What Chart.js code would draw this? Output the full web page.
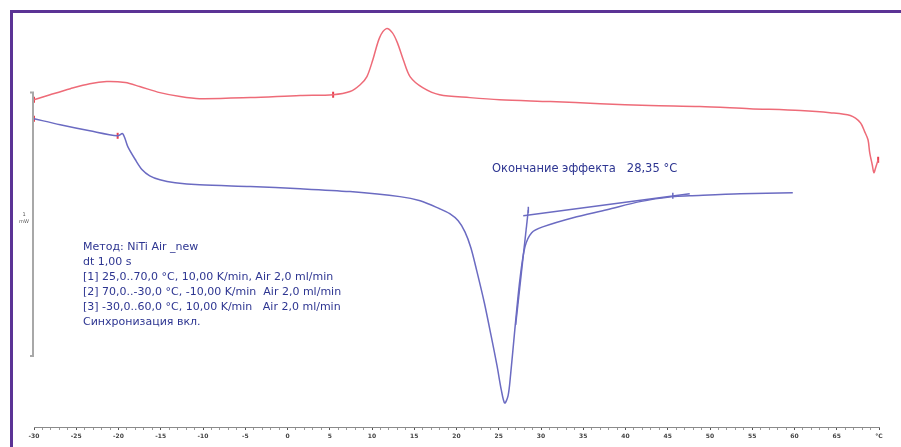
<!DOCTYPE html>
<html>
<head>
<meta charset="utf-8">
<script src="https://cdn.jsdelivr.net/npm/chart.js@4/dist/chart.umd.min.js"></script>
<style>
    html, body { margin: 0; padding: 0; background: #fff; }
    #wrap { position: relative; width: 901px; height: 447px; overflow: hidden; }
    #frame {
        position: absolute; left: 10px; top: 10px; right: -10px; bottom: -10px;
        border-top: 3px solid #5b3395; border-left: 3px solid #5b3395;
    }
    canvas { position: absolute; left: 0; top: 0; }
    .note {
        position: absolute; color: #2d3591; white-space: pre;
        font-family: "DejaVu Sans", sans-serif;
    }
    #method { left: 83px; top: 239px; font-size: 11px; line-height: 15px; }
    #effect { left: 492px; top: 161px; font-size: 11.5px; }
    #unit { left: 17px; top: 211px; font-size: 5px; line-height: 7px; color: #555; text-align: center; width: 14px; }
</style>
</head>
<body>
<div id="wrap">
    <canvas id="dsc" width="901" height="447"></canvas>
    <div id="frame"></div>
    <div class="note" id="unit">1
mW</div>
    <div class="note" id="method">Метод: NiTi Air _new
dt 1,00 s
[1] 25,0..70,0 °C, 10,00 K/min, Air 2,0 ml/min
[2] 70,0..-30,0 °C, -10,00 K/min  Air 2,0 ml/min
[3] -30,0..60,0 °C, 10,00 K/min   Air 2,0 ml/min
Синхронизация вкл.</div>
    <div class="note" id="effect">Окончание эффекта   28,35 °C</div>
</div>
<script>
// heating curve (red)
const heatT = [-30.0, -28.1, -25.7, -23.4, -21.4, -19.2, -17.5, -15.1, -12.7, -10.4, -4.4, 1.5, 5.4, 7.4, 8.6, 9.4, 10.1, 10.9, 11.7, 12.4, 13.0, 13.7, 14.5, 16.0, 18.0, 21.6, 25.1, 31.1, 37.0, 42.9, 48.8, 54.7, 60.7, 64.2, 66.6, 67.8, 68.3, 68.7, 68.9, 69.2, 69.4, 69.6, 69.9];
const heatMW = [1.243, 1.262, 1.285, 1.304, 1.312, 1.308, 1.293, 1.270, 1.255, 1.247, 1.251, 1.259, 1.262, 1.274, 1.300, 1.331, 1.395, 1.479, 1.513, 1.498, 1.460, 1.395, 1.331, 1.289, 1.262, 1.251, 1.243, 1.236, 1.228, 1.221, 1.217, 1.209, 1.202, 1.194, 1.183, 1.156, 1.122, 1.091, 1.042, 0.996, 0.966, 0.985, 1.015];

// cooling curve (blue)
const coolT = [-30.0, -26.9, -23.4, -20.1, -19.5, -18.9, -18.0, -17.2, -16.3, -15.1, -13.3, -10.4, -4.4, 1.5, 7.4, 13.3, 15.7, 18.0, 19.2, 20.2, 21.0, 21.7, 22.4, 23.3, 24.1, 24.8, 25.3, 25.7, 26.1, 26.4, 26.9, 27.5, 28.1, 28.9, 30.2, 33.8, 37.8, 41.7, 45.6, 47.6, 53.6, 59.8];
const coolMW = [1.171, 1.148, 1.125, 1.106, 1.114, 1.065, 1.015, 0.977, 0.954, 0.939, 0.928, 0.920, 0.913, 0.905, 0.894, 0.875, 0.859, 0.829, 0.810, 0.783, 0.741, 0.681, 0.593, 0.471, 0.346, 0.232, 0.141, 0.091, 0.118, 0.198, 0.369, 0.559, 0.684, 0.738, 0.760, 0.795, 0.825, 0.856, 0.875, 0.878, 0.886, 0.890];

// tangents for the end-of-effect construction
const baseT = [27.9, 47.6];
const baseMW = [0.802, 0.886];
const steepT = [28.5, 27.0];
const steepMW = [0.825, 0.388];

// small markers
const redMarkT = [-30.0, 5.4, 69.9, -30.0, -20.1];
const redMarkMW = [1.243, 1.262, 1.015, 1.171, 1.106];
const blueMarkT = [28.5, 45.6];
const blueMarkMW = [0.825, 0.878];

// 1 mW scale bar
const barT = -30;
const barMW = [0.27, 1.27];

const xTicksMajor = [-30, -25, -20, -15, -10, -5, 0, 5, 10, 15, 20, 25, 30, 35, 40, 45, 50, 55, 60, 65];

const pts = (xs, ys) => xs.map((x, i) => ({ x: x, y: ys[i] }));

const RED = '#ee6b78';
const BLUE = '#6b6bc2';

const scaleBar = {
    id: 'scaleBar',
    afterDatasetsDraw(chart) {
        const { ctx, scales: { x, y } } = chart;
        const px = x.getPixelForValue(barT) - 1;
        const top = y.getPixelForValue(barMW[1]);
        const bot = y.getPixelForValue(barMW[0]);
        ctx.save();
        ctx.strokeStyle = '#a8a8a8';
        ctx.lineWidth = 2;
        ctx.beginPath();
        ctx.moveTo(px - 3, top);
        ctx.lineTo(px, top);
        ctx.lineTo(px, bot);
        ctx.lineTo(px - 3, bot);
        ctx.stroke();
        ctx.restore();
    }
};

new Chart(document.getElementById('dsc'), {
    type: 'scatter',
    data: {
        datasets: [
            { data: pts(heatT, heatMW), showLine: true, borderColor: RED, borderWidth: 1.5, pointRadius: 0, tension: 0.3, clip: false },
            { data: pts(coolT, coolMW), showLine: true, borderColor: BLUE, borderWidth: 1.5, pointRadius: 0, tension: 0.3, clip: false },
            { data: pts(baseT, baseMW), showLine: true, borderColor: BLUE, borderWidth: 1.5, pointRadius: 0, clip: false },
            { data: pts(steepT, steepMW), showLine: true, borderColor: BLUE, borderWidth: 1.5, pointRadius: 0, clip: false },
            { data: pts(redMarkT, redMarkMW), pointStyle: 'line', rotation: 90, radius: 3, borderColor: '#e8404f', borderWidth: 2, clip: false },
            { data: pts(blueMarkT, blueMarkMW), pointStyle: 'line', rotation: 90, radius: 3, borderColor: BLUE, borderWidth: 1.5, clip: false }
        ]
    },
    options: {
        responsive: false,
        animation: false,
        layout: { padding: { left: 34, right: 22, top: 11, bottom: 0 } },
        plugins: { legend: { display: false }, tooltip: { enabled: false } },
        scales: {
            x: {
                type: 'linear',
                min: -30,
                max: 70,
                afterFit: (scale) => { scale.height = 20; },
                border: { display: true, color: '#8a8a8a', width: 1 },
                grid: {
                    drawOnChartArea: false,
                    tickLength: 3,
                    tickColor: (c) => xTicksMajor.includes(c.tick && c.tick.value) || (c.tick && c.tick.value === 70) ? '#555' : '#999'
                },
                ticks: {
                    stepSize: 1,
                    autoSkip: false,
                    maxRotation: 0,
                    padding: 3,
                    color: '#444',
                    font: { family: 'DejaVu Sans', size: 6, weight: 'bold' },
                    callback: (v) => v === 70 ? '°C' : (xTicksMajor.includes(v) ? String(v) : '')
                }
            },
            y: {
                display: false,
                min: 0,
                max: 1.58
            }
        }
    },
    plugins: [scaleBar]
});
</script>
</body>
</html>
